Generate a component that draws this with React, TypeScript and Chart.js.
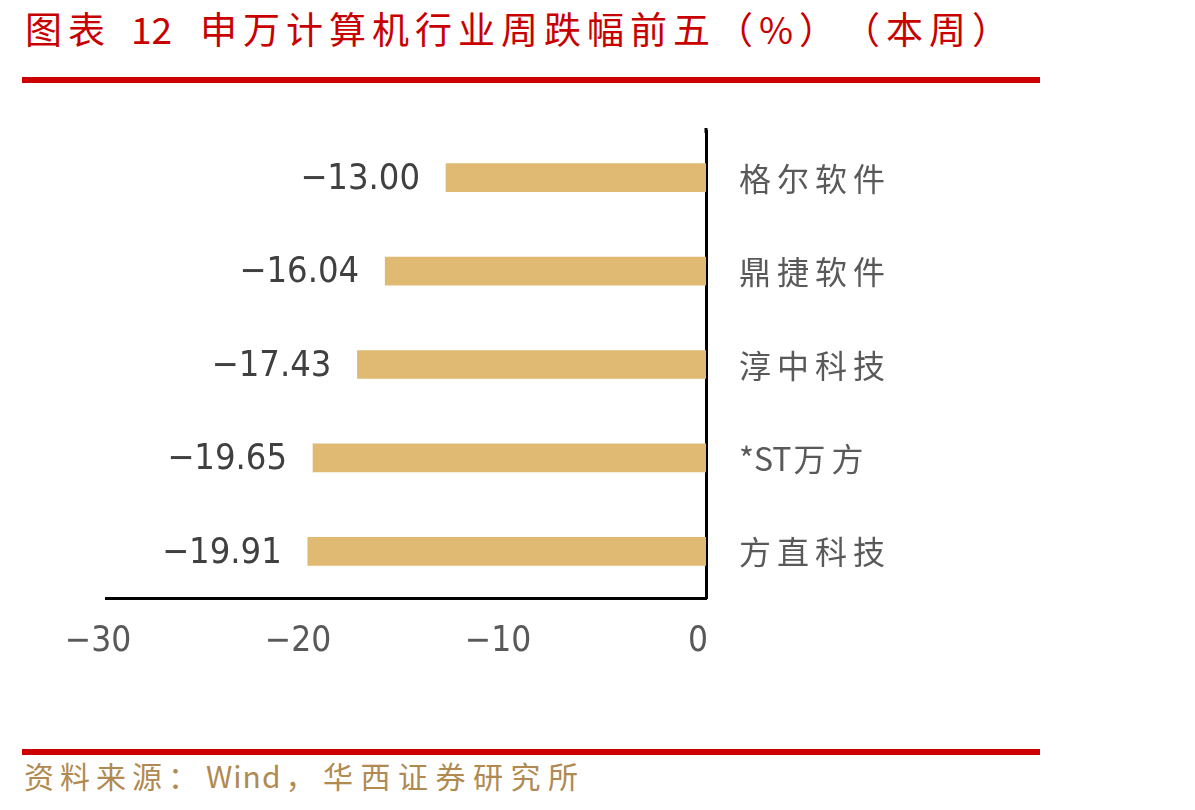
import React, { useEffect, useRef } from "react";
import { Chart, registerables } from "chart.js";

Chart.register(...registerables);

const titleParts = ["图表", "12", "申万计算机行业周跌幅前五（%）", "（本周）"];
const sourceParts = ["资料来源：", "Wind", "，华西证券研究所"];
const categories = ["格尔软件", "鼎捷软件", "淳中科技", "*ST万方", "方直科技"];
const values = [-13.0, -16.04, -17.43, -19.65, -19.91];
const xTicks = [-30, -20, -10, 0];

const NARROW = "'Liberation Sans Narrow', 'DejaVu Sans Condensed', 'Roboto', sans-serif";
const CJK = "'Noto Sans CJK SC', 'Noto Sans', sans-serif";

const fmtMinus = (v: number, digits: number) =>
  v < 0 ? "\u2212" + Math.abs(v).toFixed(digits) : v.toFixed(digits);

const labelPlugin = {
  id: "customLabels",
  afterDraw(chart: any) {
    const ctx = chart.ctx as CanvasRenderingContext2D;
    const meta = chart.getDatasetMeta(0);
    const ys = chart.scales.y;
    const area = chart.chartArea;
    ctx.save();
    ctx.font = `36px ${NARROW}`;
    ctx.fillStyle = "#404040";
    ctx.textAlign = "right";
    ctx.textBaseline = "middle";
    meta.data.forEach((bar: any, i: number) => {
      ctx.fillText(fmtMinus(values[i], 2), bar.x - 26, bar.y + 2);
    });
    ctx.font = `32px ${CJK}`;
    ctx.fillStyle = "#595959";
    ctx.textAlign = "left";
    categories.forEach((c, i) => {
      const y = ys.getPixelForValue(i) + 1;
      let x = area.right + 33;
      const runs = c.match(/[\x00-\x7F]+|[^\x00-\x7F]+/g) || [c];
      runs.forEach((run) => {
        const ascii = /^[\x00-\x7F]+$/.test(run);
        (ctx as any).letterSpacing = ascii ? "0px" : "6px";
        ctx.fillText(run, x, y);
        x += ctx.measureText(run).width + (ascii ? 2 : 0);
      });
    });
    ctx.restore();
    ctx.save();
    ctx.strokeStyle = "#000000";
    ctx.lineWidth = 3;
    ctx.beginPath();
    ctx.moveTo(area.right, area.top - 3);
    ctx.lineTo(area.right, area.top + 2);
    ctx.stroke();
    ctx.restore();
  },
};

function ChartCanvas() {
  const ref = useRef<HTMLCanvasElement | null>(null);
  useEffect(() => {
    if (!ref.current) return;
    const chart = new Chart(ref.current, {
      type: "bar",
      data: {
        labels: categories,
        datasets: [
          {
            data: values,
            backgroundColor: "#E0B972",
            barThickness: 28,
          },
        ],
      },
      options: {
        indexAxis: "y",
        animation: false,
        responsive: false,
        maintainAspectRatio: false,
        layout: { padding: { left: 106, top: 31, right: 0, bottom: 0 } },
        plugins: {
          legend: { display: false },
          tooltip: { enabled: false },
          title: { display: false },
        },
        scales: {
          x: {
            type: "linear",
            min: -30,
            max: 0,
            position: "bottom",
            afterBuildTicks: (scale: any) => {
              scale.ticks = xTicks.map((v) => ({ value: v }));
            },
            afterFit: (scale: any) => {
              scale.height = 122;
            },
            grid: { display: false, drawTicks: false },
            border: { display: true, color: "#000000", width: 3 },
            ticks: {
              padding: 23,
              labelOffset: -8,
              color: "#595959",
              font: { family: NARROW, size: 35 },
              callback: (v: any) => fmtMinus(Number(v), 0),
            },
          },
          y: {
            type: "category",
            position: "right",
            afterFit: (scale: any) => {
              scale.width = 489;
            },
            grid: { display: false, drawTicks: false },
            border: { display: true, color: "#000000", width: 3 },
            ticks: { display: false },
          },
        },
      },
      plugins: [labelPlugin],
    } as any);
    return () => chart.destroy();
  }, []);
  return (
    <canvas
      ref={ref}
      width={1195}
      height={620}
      style={{ position: "absolute", left: 0, top: 100, width: 1195, height: 620 }}
    />
  );
}

export default function App() {
  const titleStyle: React.CSSProperties = {
    position: "absolute",
    top: 8,
    fontFamily: CJK,
    fontSize: 37,
    lineHeight: "40px",
    letterSpacing: "6px",
    color: "#C80000",
    whiteSpace: "pre",
  };
  const srcStyle: React.CSSProperties = {
    fontFamily: CJK,
    fontSize: 30,
    lineHeight: "32px",
    color: "#B08A50",
    whiteSpace: "pre",
  };
  return (
    <div
      style={{
        position: "absolute",
        left: 0,
        top: 0,
        width: 1195,
        height: 810,
        background: "#ffffff",
        overflow: "hidden",
      }}
    >
      <div style={{ ...titleStyle, left: 25 }}>{titleParts[0]}</div>
      <div style={{ ...titleStyle, left: 131, letterSpacing: "0px" }}>{titleParts[1]}</div>
      <div style={{ ...titleStyle, left: 200 }}>{titleParts[2]}</div>
      <div style={{ ...titleStyle, left: 843 }}>{titleParts[3]}</div>
      <div
        style={{
          position: "absolute",
          left: 22,
          top: 77,
          width: 1018,
          height: 6,
          background: "#CC0000",
        }}
      />
      <ChartCanvas />
      <div
        style={{
          position: "absolute",
          left: 22,
          top: 749,
          width: 1018,
          height: 6,
          background: "#CC0000",
        }}
      />
      <div style={{ position: "absolute", left: 24, top: 759, display: "flex" }}>
        <span style={{ ...srcStyle, letterSpacing: "6px" }}>{sourceParts[0]}</span>
        <span style={{ ...srcStyle, letterSpacing: "1px", marginLeft: 2 }}>{sourceParts[1]}</span>
        <span style={{ ...srcStyle, letterSpacing: "7.5px", marginLeft: 4 }}>{sourceParts[2]}</span>
      </div>
    </div>
  );
}
